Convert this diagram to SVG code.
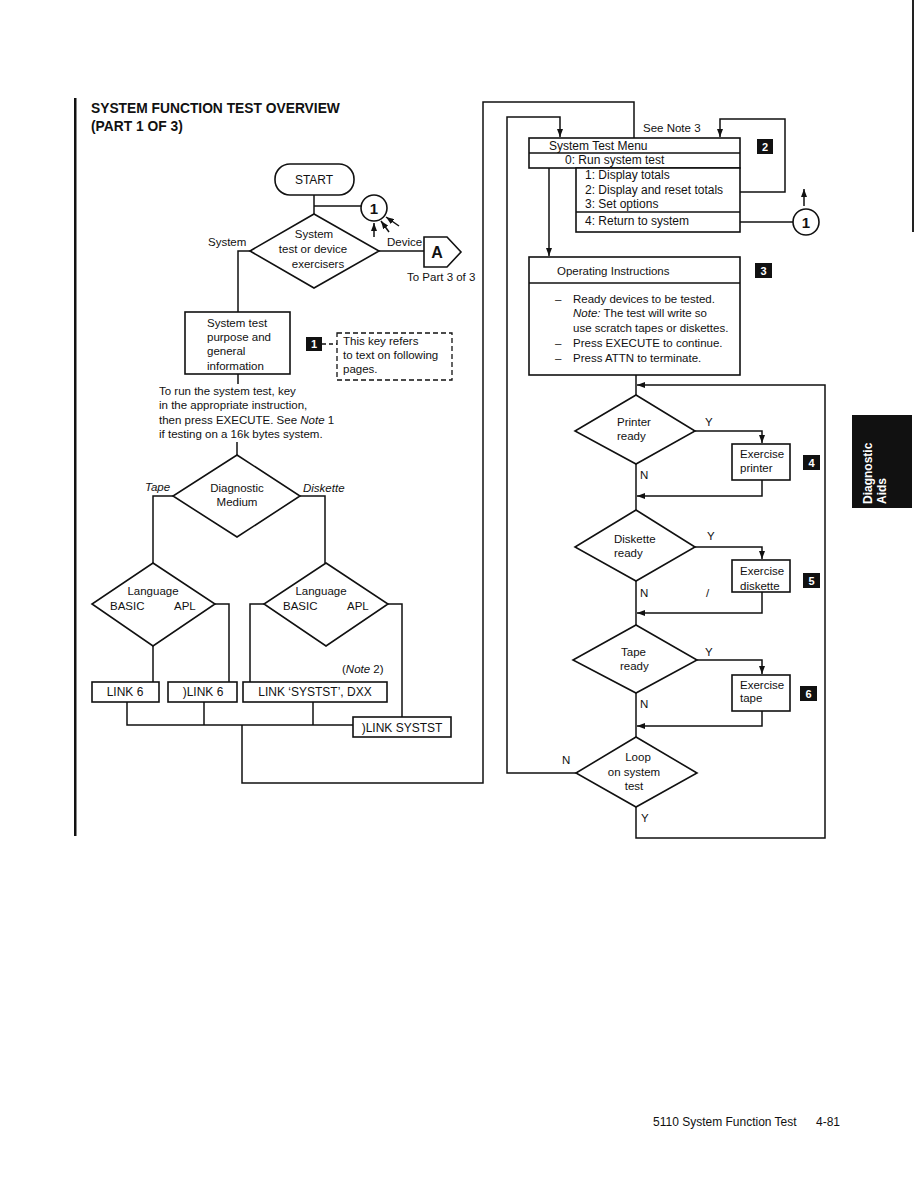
<svg xmlns="http://www.w3.org/2000/svg" width="918" height="1187" viewBox="0 0 918 1187">
<defs>
<marker id="ah" markerUnits="userSpaceOnUse" markerWidth="8" markerHeight="6" refX="8" refY="3" orient="auto"><path d="M0,0 L8,3 L0,6 z" fill="#111"/></marker>
<style>
.t{font-family:"Liberation Sans",Arial,sans-serif;font-size:11.5px;fill:#111}
.mn{font-size:12px}
.m{text-anchor:middle}
.i{font-style:italic}
.b{font-weight:bold}
.ln{stroke:#111;stroke-width:1.5;fill:none}
.box{fill:#fff;stroke:#111;stroke-width:1.6}
.key{fill:#111}
.kt{font-family:"Liberation Sans",Arial,sans-serif;font-size:11px;font-weight:bold;fill:#fff;text-anchor:middle}
</style>
</defs>
<rect width="918" height="1187" fill="#fff"/>
<rect x="74" y="98" width="2.5" height="738" fill="#111"/>
<rect x="912" y="0" width="2" height="232" fill="#222"/>
<g id="title">
<text class="t b" x="91" y="113" style="font-size:13.8px">SYSTEM FUNCTION TEST OVERVIEW</text>
<text class="t b" x="91" y="131" style="font-size:13.8px">(PART 1 OF 3)</text>
</g>
<g id="connectors">
<path class="ln" d="M314,195 V214"/>
<path class="ln" d="M314,206 H361"/>
<path class="ln" d="M374,237 V223" marker-end="url(#ah)"/>
<path class="ln" d="M389,232 L381,221" marker-end="url(#ah)"/>
<path class="ln" d="M399,226 L386,217" marker-end="url(#ah)"/>
<path class="ln" d="M250,251 H238 V312"/>
<path class="ln" d="M379,251 H424"/>
<path class="ln" d="M238,374 V384"/>
<path class="ln" d="M237,442 V455"/>
<path class="ln" d="M173,496 H153 V563"/>
<path class="ln" d="M300,496 H325 V563"/>
<path class="ln" d="M153,646 V682"/>
<path class="ln" d="M215,604 H229 V682"/>
<path class="ln" d="M264,604 H250 V682"/>
<path class="ln" d="M388,604 H402 V717"/>
<path class="ln" d="M127,702 V725 H353"/>
<path class="ln" d="M204,702 V725"/>
<path class="ln" d="M313,702 V725"/>
<path class="ln" d="M242,725 V783 H483 V102 H634 V138"/>
<path class="ln" d="M576,773 H507 V117 H560 V137" marker-end="url(#ah)"/>
<path class="ln" d="M740,192 H785 V119 H720 V137" marker-end="url(#ah)"/>
<path class="ln" d="M740,222 H793"/>
<path class="ln" d="M804,206 V189" marker-end="url(#ah)"/>
<path class="ln" d="M549,168 V256" marker-end="url(#ah)"/>
<path class="ln" d="M636,375 V395"/>
<path class="ln" d="M695,431 H762 V443" marker-end="url(#ah)"/>
<path class="ln" d="M762,480 V496 H637" marker-end="url(#ah)"/>
<path class="ln" d="M636,464 V510"/>
<path class="ln" d="M695,547 H762 V559" marker-end="url(#ah)"/>
<path class="ln" d="M762,592 V613 H637" marker-end="url(#ah)"/>
<path class="ln" d="M636,581 V625"/>
<path class="ln" d="M697,660 H762 V674" marker-end="url(#ah)"/>
<path class="ln" d="M762,711 V726 H637" marker-end="url(#ah)"/>
<path class="ln" d="M636,693 V737"/>
<path class="ln" d="M636,807 V838 H825 V385 H637" marker-end="url(#ah)"/>
<path class="ln" d="M322,344 H337" stroke-dasharray="4,3"/>
</g>
<g id="start">
<rect class="box" x="275" y="164" width="79" height="31" rx="15" ry="15"/>
<text class="t m" x="314" y="184" style="font-size:12px">START</text>
</g>
<g id="conn1a">
<circle class="box" cx="374" cy="208" r="13"/>
<text class="t m b" x="374" y="214" style="font-size:15px">1</text>
</g>
<g id="dec-system">
<polygon class="box" points="314,214 379,251 314,288 250,251"/>
<text class="t m" x="314" y="238">System</text>
<text class="t m" x="313" y="253">test or device</text>
<text class="t m" x="318" y="268">exercisers</text>
<text class="t" x="208" y="246">System</text>
<text class="t" x="387" y="246">Device</text>
</g>
<g id="offpage-a">
<polygon class="box" points="424,237 447,237 461,252 447,267 424,267"/>
<text class="t m b" x="437" y="258" style="font-size:16px">A</text>
<text class="t" x="407" y="281">To Part 3 of 3</text>
</g>
<g id="info">
<rect class="box" x="185" y="312" width="105" height="62"/>
<text class="t" x="207" y="327">System test</text>
<text class="t" x="207" y="341">purpose and</text>
<text class="t" x="207" y="355">general</text>
<text class="t" x="207" y="370">information</text>
</g>
<g id="key1">
<rect class="key" x="306" y="337" width="16" height="14"/>
<text class="kt" x="314" y="348">1</text>
<rect x="337" y="333" width="115" height="47" fill="none" stroke="#111" stroke-width="1.3" stroke-dasharray="5,3"/>
<text class="t" x="343" y="345">This key refers</text>
<text class="t" x="343" y="359">to text on following</text>
<text class="t" x="343" y="373">pages.</text>
</g>
<g id="run-text">
<text class="t" x="159" y="395">To run the system test, key</text>
<text class="t" x="159" y="409">in the appropriate instruction,</text>
<text class="t" x="159" y="424">then press EXECUTE. See <tspan class="i">Note</tspan> 1</text>
<text class="t" x="159" y="438">if testing on a 16k bytes system.</text>
</g>
<g id="dec-medium">
<polygon class="box" points="237,455 300,496 237,537 173,496"/>
<text class="t m" x="237" y="492">Diagnostic</text>
<text class="t m" x="237" y="506">Medium</text>
<text class="t i" x="145" y="491">Tape</text>
<text class="t i" x="303" y="492">Diskette</text>
</g>
<g id="dec-lang-tape">
<polygon class="box" points="153,563 215,604 153,646 92,604"/>
<text class="t m" x="153" y="595">Language</text>
<text class="t" x="110" y="610">BASIC</text>
<text class="t" x="174" y="610">APL</text>
</g>
<g id="dec-lang-disk">
<polygon class="box" points="326,563 388,604 326,646 264,604"/>
<text class="t m" x="321" y="595">Language</text>
<text class="t" x="283" y="610">BASIC</text>
<text class="t" x="347" y="610">APL</text>
</g>
<g id="link6">
<rect class="box" x="92" y="682" width="67" height="20"/>
<text class="t m" x="125" y="696" style="font-size:12px">LINK 6</text>
</g>
<g id="link6apl">
<rect class="box" x="168" y="682" width="69" height="20"/>
<text class="t m" x="203" y="696" style="font-size:12px">)LINK 6</text>
</g>
<g id="linksystst">
<rect class="box" x="243" y="682" width="144" height="20"/>
<text class="t m" x="315" y="696" style="font-size:12px">LINK ‘SYSTST’, DXX</text>
<text class="t" x="342" y="673">(<tspan class="i">Note</tspan> 2)</text>
</g>
<g id="linksystst-apl">
<rect class="box" x="353" y="717" width="98" height="20"/>
<text class="t m" x="402" y="732" style="font-size:12px">)LINK SYSTST</text>
</g>
<g id="menu">
<rect class="box" x="529" y="138" width="211" height="30"/>
<line class="ln" x1="529" y1="153" x2="740" y2="153"/>
<rect class="box" x="576" y="168" width="164" height="64"/>
<line class="ln" x1="576" y1="212" x2="740" y2="212"/>
<text class="t mn" x="549" y="150">System Test Menu</text>
<text class="t mn" x="565" y="164">0:  Run system test</text>
<text class="t mn" x="585" y="179">1:  Display totals</text>
<text class="t mn" x="585" y="194">2:  Display and reset totals</text>
<text class="t mn" x="585" y="208">3:  Set options</text>
<text class="t mn" x="585" y="225">4:  Return to system</text>
<text class="t" x="643" y="132">See Note 3</text>
<rect class="key" x="757" y="139" width="16" height="15"/>
<text class="kt" x="765" y="151">2</text>
</g>
<g id="conn1b">
<circle class="box" cx="806" cy="222" r="13"/>
<text class="t m b" x="806" y="228" style="font-size:15px">1</text>
</g>
<g id="opinst">
<rect class="box" x="529" y="257" width="211" height="118"/>
<line class="ln" x1="529" y1="283" x2="740" y2="283"/>
<text class="t" x="557" y="275">Operating Instructions</text>
<text class="t" x="555" y="303">–</text>
<text class="t" x="573" y="303">Ready devices to be tested.</text>
<text class="t" x="573" y="317"><tspan class="i">Note:</tspan> The test will write so</text>
<text class="t" x="573" y="332">use scratch tapes or diskettes.</text>
<text class="t" x="555" y="347">–</text>
<text class="t" x="573" y="347">Press EXECUTE to continue.</text>
<text class="t" x="555" y="362">–</text>
<text class="t" x="573" y="362">Press ATTN to terminate.</text>
<rect class="key" x="755" y="263" width="17" height="15"/>
<text class="kt" x="763.5" y="275">3</text>
</g>
<g id="dec-printer">
<polygon class="box" points="636,395 695,431 636,464 575,431"/>
<text class="t" x="617" y="426">Printer</text>
<text class="t" x="617" y="440">ready</text>
<text class="t" x="705" y="426">Y</text>
<text class="t" x="640" y="479">N</text>
</g>
<g id="ex-printer">
<rect class="box" x="732" y="444" width="58" height="36"/>
<text class="t" x="740" y="458">Exercise</text>
<text class="t" x="740" y="472">printer</text>
<rect class="key" x="803" y="455" width="17" height="15"/>
<text class="kt" x="811.5" y="467">4</text>
</g>
<g id="dec-diskette">
<polygon class="box" points="636,510 695,547 636,581 575,547"/>
<text class="t" x="614" y="543">Diskette</text>
<text class="t" x="614" y="557">ready</text>
<text class="t" x="707" y="540">Y</text>
<text class="t" x="640" y="597">N</text>
<text class="t" x="706" y="597">/</text>
</g>
<g id="ex-diskette">
<rect class="box" x="732" y="560" width="58" height="32"/>
<text class="t" x="740" y="575">Exercise</text>
<text class="t" x="740" y="590">diskette</text>
<rect class="key" x="803" y="573" width="17" height="15"/>
<text class="kt" x="811.5" y="585">5</text>
</g>
<g id="dec-tape">
<polygon class="box" points="636,625 697,660 636,693 573,660"/>
<text class="t" x="621" y="656">Tape</text>
<text class="t" x="620" y="670">ready</text>
<text class="t" x="705" y="656">Y</text>
<text class="t" x="640" y="708">N</text>
</g>
<g id="ex-tape">
<rect class="box" x="732" y="675" width="58" height="36"/>
<text class="t" x="740" y="689">Exercise</text>
<text class="t" x="740" y="702">tape</text>
<rect class="key" x="800" y="686" width="17" height="15"/>
<text class="kt" x="808.5" y="698">6</text>
</g>
<g id="dec-loop">
<polygon class="box" points="636,737 697,773 636,807 576,773"/>
<text class="t m" x="638" y="761">Loop</text>
<text class="t m" x="634" y="776">on system</text>
<text class="t m" x="634" y="790">test</text>
<text class="t" x="562" y="764">N</text>
<text class="t" x="641" y="822">Y</text>
</g>
<g id="tab">
<rect x="852" y="415" width="60" height="93" fill="#111"/>
<text transform="translate(872,504) rotate(-90)" style="font-family:'Liberation Sans',Arial,sans-serif;font-size:12px;font-weight:bold;fill:#fff">Diagnostic</text>
<text transform="translate(886,504) rotate(-90)" style="font-family:'Liberation Sans',Arial,sans-serif;font-size:12px;font-weight:bold;fill:#fff">Aids</text>
</g>
<g id="footer">
<text class="t" x="653" y="1126" style="font-size:12px">5110 System Function Test</text>
<text class="t" x="816" y="1126" style="font-size:12px">4-81</text>
</g>
</svg>
